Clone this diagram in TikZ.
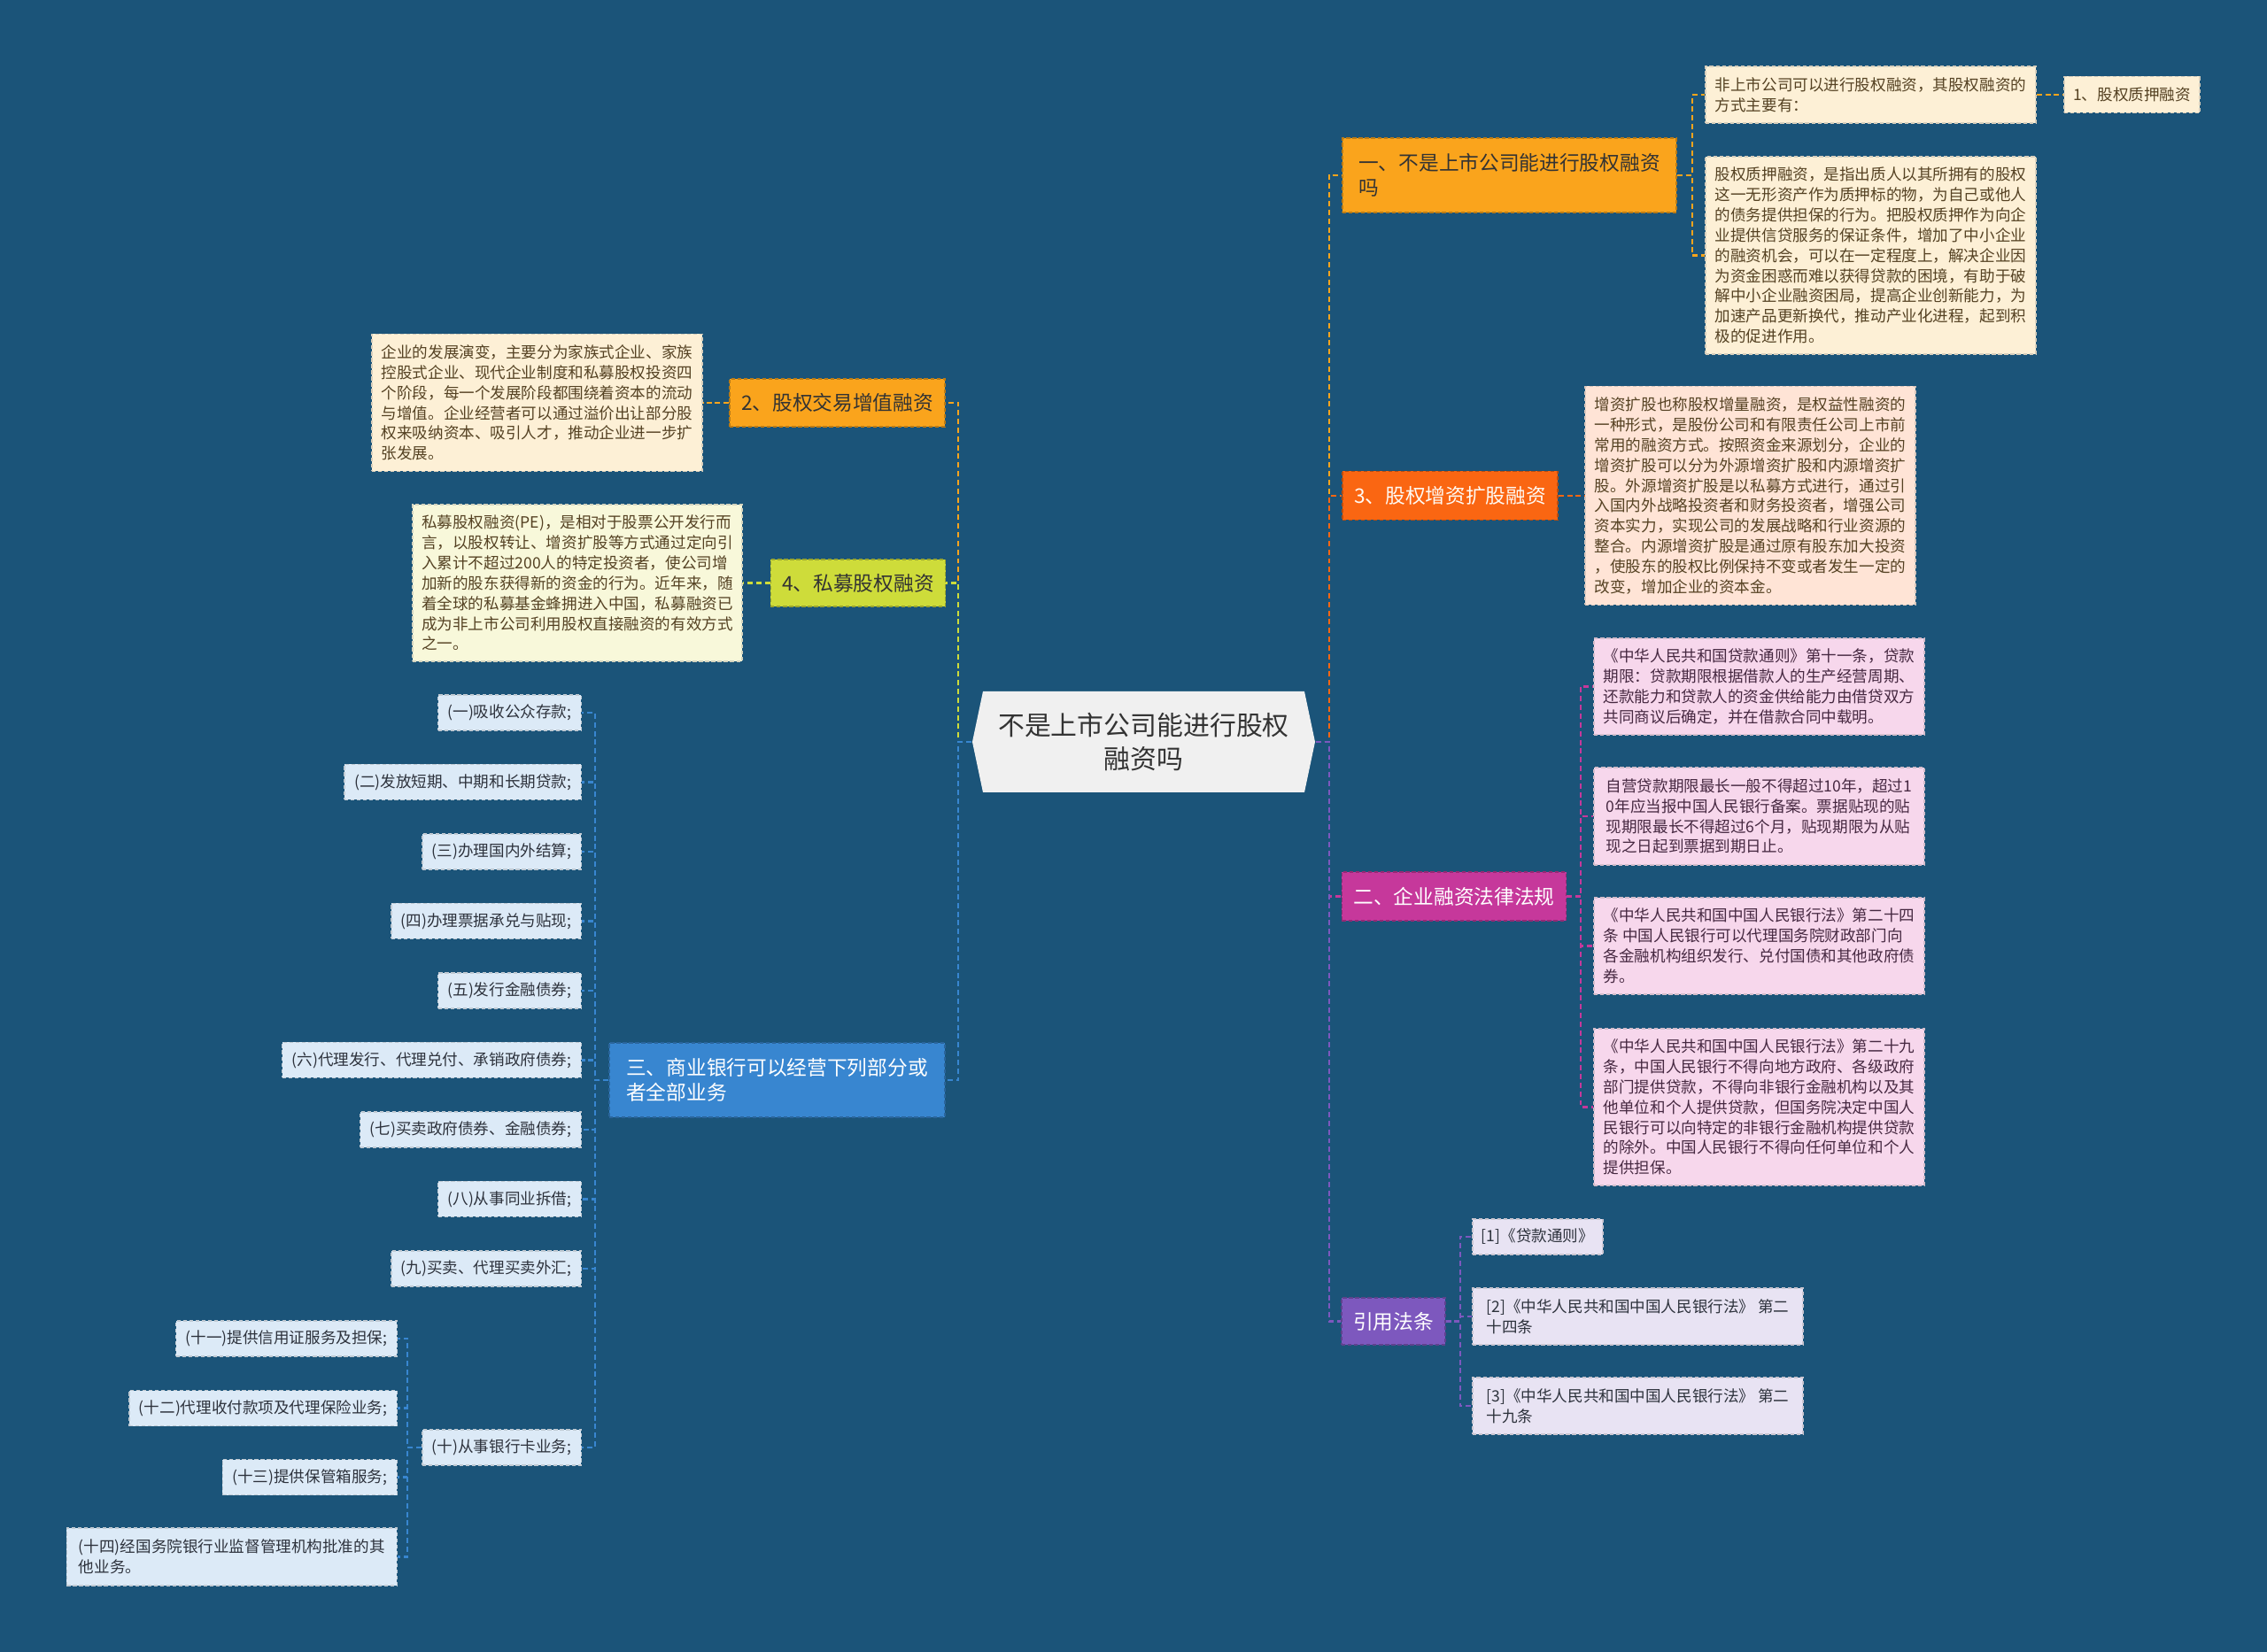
\documentclass[tikz,border=0pt]{standalone}
\usepackage{fontspec}
\setmainfont{Noto Sans CJK SC}

\definecolor{bgblue}{RGB}{27,84,121}
\definecolor{rootfill}{RGB}{240,240,240}
\definecolor{orng}{RGB}{250,164,28}
\definecolor{redorng}{RGB}{250,102,18}
\definecolor{magen}{RGB}{198,56,155}
\definecolor{purp}{RGB}{125,88,190}
\definecolor{lime}{RGB}{206,220,58}
\definecolor{blu}{RGB}{56,134,208}
\definecolor{creamfill}{RGB}{253,240,214}
\definecolor{peachfill}{RGB}{255,228,214}
\definecolor{pinkfill}{RGB}{247,215,236}
\definecolor{lavfill}{RGB}{232,227,243}
\definecolor{yelfill}{RGB}{248,248,218}
\definecolor{blufill}{RGB}{220,234,247}
\definecolor{brwn}{RGB}{85,66,35}
\definecolor{plum}{RGB}{70,40,65}
\definecolor{inkgray}{RGB}{45,50,60}

\begin{document}
\begin{tikzpicture}[
  root/.style={minimum width=3.87cm,minimum height=1.14cm,inner sep=0pt,align=center,text=black!80,font=\fontsize{8.5}{10.8}\selectfont},
  branch/.style 2 args={draw=#1!75!black,fill=#1,text=#2,dash pattern=on 1.2pt off 0.8pt,line width=0.4pt,inner xsep=0.13cm,inner ysep=0pt,align=left,font=\fontsize{6.46}{8}\selectfont},
  note/.style 2 args={draw=#1!70!gray,fill=#1,text=#2,dash pattern=on 1.2pt off 0.8pt,line width=0.4pt,inner xsep=0.1cm,inner ysep=0pt,align=left,font=\fontsize{5}{6.5}\selectfont},
  leaf/.style={note={blufill}{inkgray},anchor=east,inner xsep=0.11cm,minimum height=0.40cm},
  link/.style={draw=#1,dash pattern=on 1.7pt off 1.1pt,line width=0.6pt}
]
\fill[bgblue] (0,0) rectangle (25.6,-18.66);

% centre
\fill[rootfill] (10.98,-8.38) -- (11.10,-7.81) -- (14.73,-7.81) -- (14.85,-8.38) -- (14.73,-8.95) -- (11.10,-8.95) -- cycle;
\node[root] (root) at (12.915,-8.38) {不是上市公司能进行股权\\融资吗};

% right branches
\node[branch={orng}{black!80},minimum width=3.77cm,minimum height=0.84cm] (b1) at (17.045,-1.98) {一、不是上市公司能进行股权融资\\吗};
\node[branch={redorng}{white!95!orange},minimum width=2.43cm,minimum height=0.55cm] (b2) at (16.375,-5.6) {3、股权增资扩股融资};
\node[branch={magen}{white},minimum width=2.51cm,minimum height=0.55cm] (b3) at (16.42,-10.125) {二、企业融资法律法规};
\node[branch={purp}{white},minimum width=1.15cm,minimum height=0.53cm] (b4) at (15.735,-14.925) {引用法条};

% left branches
\node[branch={orng}{black!80},minimum width=2.43cm,minimum height=0.54cm] (b5) at (9.455,-4.55) {2、股权交易增值融资};
\node[branch={lime}{black!80},minimum width=1.96cm,minimum height=0.53cm] (b6) at (9.69,-6.585) {4、私募股权融资};
\node[branch={blu}{white},minimum width=3.79cm,minimum height=0.84cm] (b7) at (8.775,-12.2) {三、商业银行可以经营下列部分或\\者全部业务};

% notes of branch 1
\node[note={creamfill}{brwn},minimum width=3.73cm,minimum height=0.64cm] (c11) at (21.125,-1.07) {非上市公司可以进行股权融资，其股权融资的\\方式主要有：};
\node[note={creamfill}{brwn},minimum width=1.53cm,minimum height=0.41cm] (c111) at (24.075,-1.07) {1、股权质押融资};
\node[note={creamfill}{brwn},minimum width=3.73cm,minimum height=2.23cm] (c12) at (21.125,-2.885) {股权质押融资，是指出质人以其所拥有的股权\\这一无形资产作为质押标的物，为自己或他人\\的债务提供担保的行为。把股权质押作为向企\\业提供信贷服务的保证条件，增加了中小企业\\的融资机会，可以在一定程度上，解决企业因\\为资金困惑而难以获得贷款的困境，有助于破\\解中小企业融资困局，提高企业创新能力，为\\加速产品更新换代，推动产业化进程，起到积\\极的促进作用。};

% note of branch 3
\node[note={peachfill}{brwn},minimum width=3.73cm,minimum height=2.47cm] (c21) at (19.765,-5.6) {增资扩股也称股权增量融资，是权益性融资的\\一种形式，是股份公司和有限责任公司上市前\\常用的融资方式。按照资金来源划分，企业的\\增资扩股可以分为外源增资扩股和内源增资扩\\股。外源增资扩股是以私募方式进行，通过引\\入国内外战略投资者和财务投资者，增强公司\\资本实力，实现公司的发展战略和行业资源的\\整合。内源增资扩股是通过原有股东加大投资\\，使股东的股权比例保持不变或者发生一定的\\改变，增加企业的资本金。};

% notes of branch 二
\node[note={pinkfill}{plum},minimum width=3.73cm,minimum height=1.09cm] (c31) at (19.865,-7.755) {《中华人民共和国贷款通则》第十一条，贷款\\期限：贷款期限根据借款人的生产经营周期、\\还款能力和贷款人的资金供给能力由借贷双方\\共同商议后确定，并在借款合同中载明。};
\node[note={pinkfill}{plum},minimum width=3.73cm,minimum height=1.10cm] (c32) at (19.865,-9.22) {自营贷款期限最长一般不得超过10年，超过1\\0年应当报中国人民银行备案。票据贴现的贴\\现期限最长不得超过6个月，贴现期限为从贴\\现之日起到票据到期日止。};
\node[note={pinkfill}{plum},minimum width=3.73cm,minimum height=1.09cm] (c33) at (19.865,-10.685) {《中华人民共和国中国人民银行法》第二十四\\条 中国人民银行可以代理国务院财政部门向\\各金融机构组织发行、兑付国债和其他政府债\\券。};
\node[note={pinkfill}{plum},minimum width=3.73cm,minimum height=1.77cm] (c34) at (19.865,-12.505) {《中华人民共和国中国人民银行法》第二十九\\条，中国人民银行不得向地方政府、各级政府\\部门提供贷款，不得向非银行金融机构以及其\\他单位和个人提供贷款，但国务院决定中国人\\民银行可以向特定的非银行金融机构提供贷款\\的除外。中国人民银行不得向任何单位和个人\\提供担保。};

% notes of 引用法条
\node[note={lavfill}{inkgray},minimum width=1.47cm,minimum height=0.40cm] (c41) at (17.365,-13.97) {[1]《贷款通则》};
\node[note={lavfill}{inkgray},minimum width=3.73cm,minimum height=0.64cm] (c42) at (18.495,-14.87) {[2]《中华人民共和国中国人民银行法》 第二\\十四条};
\node[note={lavfill}{inkgray},minimum width=3.73cm,minimum height=0.64cm] (c43) at (18.495,-15.88) {[3]《中华人民共和国中国人民银行法》 第二\\十九条};

% notes of left branches
\node[note={creamfill}{brwn},minimum width=3.73cm,minimum height=1.55cm] (c51) at (6.065,-4.55) {企业的发展演变，主要分为家族式企业、家族\\控股式企业、现代企业制度和私募股权投资四\\个阶段，每一个发展阶段都围绕着资本的流动\\与增值。企业经营者可以通过溢价出让部分股\\权来吸纳资本、吸引人才，推动企业进一步扩\\张发展。};
\node[note={yelfill}{brwn},minimum width=3.72cm,minimum height=1.77cm] (c61) at (6.52,-6.585) {私募股权融资(PE)，是相对于股票公开发行而\\言，以股权转让、增资扩股等方式通过定向引\\入累计不超过200人的特定投资者，使公司增\\加新的股东获得新的资金的行为。近年来，随\\着全球的私募基金蜂拥进入中国，私募融资已\\成为非上市公司利用股权直接融资的有效方式\\之一。};

% bank business items
\node[leaf] (l1) at (6.57,-8.05) {(一)吸收公众存款;};
\node[leaf] (l2) at (6.57,-8.835) {(二)发放短期、中期和长期贷款;};
\node[leaf] (l3) at (6.57,-9.62) {(三)办理国内外结算;};
\node[leaf] (l4) at (6.57,-10.405) {(四)办理票据承兑与贴现;};
\node[leaf] (l5) at (6.57,-11.19) {(五)发行金融债券;};
\node[leaf] (l6) at (6.57,-11.975) {(六)代理发行、代理兑付、承销政府债券;};
\node[leaf] (l7) at (6.57,-12.76) {(七)买卖政府债券、金融债券;};
\node[leaf] (l8) at (6.57,-13.545) {(八)从事同业拆借;};
\node[leaf] (l9) at (6.57,-14.33) {(九)买卖、代理买卖外汇;};
\node[leaf] (l10) at (6.57,-16.35) {(十)从事银行卡业务;};
\node[leaf] (l11) at (4.49,-15.12) {(十一)提供信用证服务及担保;};
\node[leaf] (l12) at (4.49,-15.905) {(十二)代理收付款项及代理保险业务;};
\node[leaf] (l13) at (4.49,-16.685) {(十三)提供保管箱服务;};
\node[leaf,minimum width=3.73cm,minimum height=0.65cm] (l14) at (4.49,-17.585) {(十四)经国务院银行业监督管理机构批准的其\\他业务。};

% connectors
\draw[link=orng] (root.east) -- ++(0.15,0) |- (b1.west);
\draw[link=redorng] (root.east) -- ++(0.15,0) |- (b2.west);
\draw[link=magen] (root.east) -- ++(0.15,0) |- (b3.west);
\draw[link=purp] (root.east) -- ++(0.15,0) |- (b4.west);
\draw[link=orng] (root.west) -- ++(-0.15,0) |- (b5.east);
\draw[link=lime] (root.west) -- ++(-0.15,0) |- (b6.east);
\draw[link=blu] (root.west) -- ++(-0.15,0) |- (b7.east);

\draw[link=orng] (b1.east) -- ++(0.17,0) |- (c11.west);
\draw[link=orng] (b1.east) -- ++(0.17,0) |- (c12.west);
\draw[link=orng] (c11.east) -- (c111.west);
\draw[link=redorng] (b2.east) -- (c21.west);
\draw[link=magen] (b3.east) -- ++(0.16,0) |- (c31.west);
\draw[link=magen] (b3.east) -- ++(0.16,0) |- (c32.west);
\draw[link=magen] (b3.east) -- ++(0.16,0) |- (c33.west);
\draw[link=magen] (b3.east) -- ++(0.16,0) |- (c34.west);
\draw[link=purp] (b4.east) -- ++(0.16,0) |- (c41.west);
\draw[link=purp] (b4.east) -- ++(0.16,0) |- (c42.west);
\draw[link=purp] (b4.east) -- ++(0.16,0) |- (c43.west);
\draw[link=orng] (b5.west) -- (c51.east);
\draw[link=lime] (b6.west) -- (c61.east);
\foreach \n in {l1,l2,l3,l4,l5,l6,l7,l8,l9,l10}
  \draw[link=blu] (b7.west) -- ++(-0.15,0) |- (\n.east);
\foreach \n in {l11,l12,l13,l14}
  \draw[link=blu] (l10.west) -- ++(-0.16,0) |- (\n.east);
\end{tikzpicture}
\end{document}
